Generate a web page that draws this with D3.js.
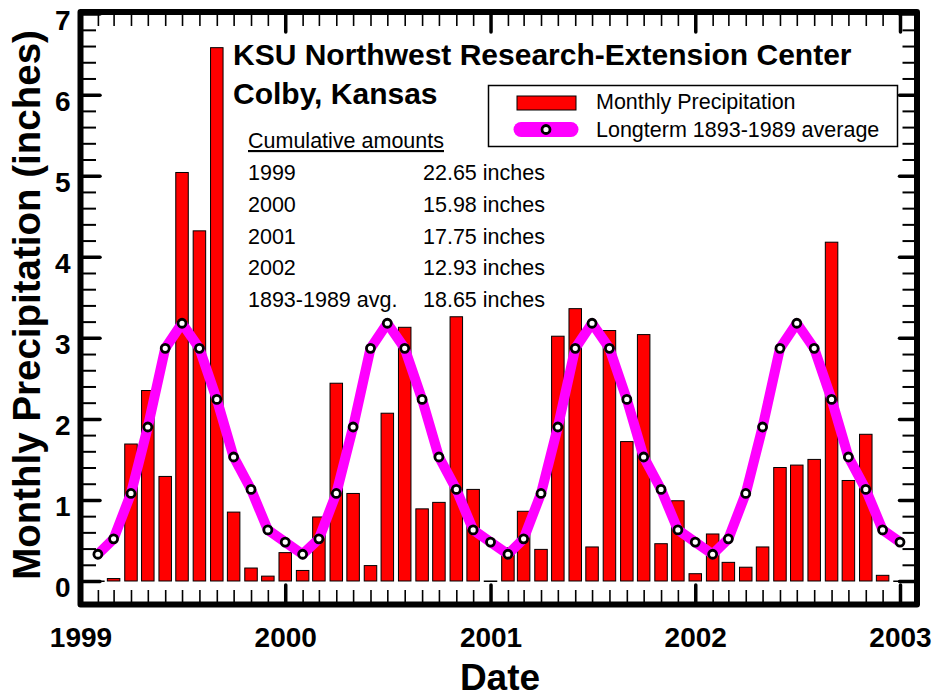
<!DOCTYPE html>
<html>
<head>
<meta charset="utf-8">
<script src="https://cdn.jsdelivr.net/npm/d3@7"></script>
<style>
  body { margin: 0; background: #fff; }
  svg { display: block; font-family: "Liberation Sans", Arial, sans-serif; }
  .tick text { font-family: "Liberation Sans", Arial, sans-serif; }
</style>
</head>
<body>
<div id="chart"></div>
<script>
// monthly precipitation (inches), Jan..Dec
const years = [1999, 2000, 2001, 2002];
const precip1999 = [0, 0.03, 1.69, 2.35, 1.29, 5.04, 4.32, 6.58, 0.85, 0.16, 0.06, 0.35];
const precip2000 = [0.13, 0.79, 2.44, 1.08, 0.19, 2.07, 3.13, 0.89, 0.97, 3.26, 1.13, 0];
const precip2001 = [0.41, 0.86, 0.39, 3.02, 3.36, 0.42, 3.09, 1.72, 3.04, 0.46, 0.99, 0.09];
const precip2002 = [0.58, 0.23, 0.17, 0.42, 1.40, 1.43, 1.50, 4.18, 1.24, 1.81, 0.07, 0];
// longterm 1893-1989 monthly average
const longtermAvg = [0.33, 0.52, 1.08, 1.90, 2.87, 3.18, 2.87, 2.24, 1.53, 1.13, 0.63, 0.48];

const yTicks = [0, 1, 2, 3, 4, 5, 6, 7];
const xTickYears = [1999, 2000, 2001, 2002, 2003];

const cumLabels = ['1999', '2000', '2001', '2002', '1893-1989 avg.'];
const cumValues = ['22.65 inches', '15.98 inches', '17.75 inches', '12.93 inches', '18.65 inches'];

const titleLines = ['KSU Northwest Research-Extension Center', 'Colby, Kansas'];
const legendLabels = ['Monthly Precipitation', 'Longterm 1893-1989 average'];

const width = 936;
const height = 698;
const frameLeft = 80.5;
const frameRight = 917;
const frameTop = 12;
const frameBottom = 604.5;

// build monthly rows, each point placed at end of its month
const allPrecip = [precip1999, precip2000, precip2001, precip2002];
const rows = [];
years.forEach((yr, i) => {
  allPrecip[i].forEach((v, m) => {
    rows.push({ date: new Date(yr, m + 1, 1), value: v, avg: longtermAvg[m] });
  });
});

const x = d3.scaleTime()
  .domain([new Date(1999, 0, 1), new Date(2003, 0, 1)])
  .range([frameLeft, 900]);

const y = d3.scaleLinear()
  .domain([-0.29, 7.02])
  .range([frameBottom, frameTop]);

const $svg = d3.select('#chart').append('svg')
  .attr('width', width)
  .attr('height', height);

// bars
const barW = 12.5;
$svg.append('g')
  .selectAll('rect')
  .data(rows)
  .join('rect')
  .attr('x', d => x(d.date) - barW / 2)
  .attr('y', d => y(d.value))
  .attr('width', barW)
  .attr('height', d => Math.max(0.5, y(0) - y(d.value)))
  .attr('fill', '#ff0000')
  .attr('stroke', '#000')
  .attr('stroke-width', 1);

// longterm average line
const line = d3.line()
  .x(d => x(d.date))
  .y(d => y(d.avg));

$svg.append('path')
  .datum(rows)
  .attr('d', line)
  .attr('fill', 'none')
  .attr('stroke', '#ff00ff')
  .attr('stroke-width', 10)
  .attr('stroke-linejoin', 'round')
  .attr('stroke-linecap', 'round');

$svg.append('g')
  .selectAll('circle')
  .data(rows)
  .join('circle')
  .attr('cx', d => x(d.date))
  .attr('cy', d => y(d.avg))
  .attr('r', 4)
  .attr('fill', '#fff')
  .attr('stroke', '#000')
  .attr('stroke-width', 2.8);

// axes: ticks point inward on all four sides
const minorY = d3.range(0, 7.01, 0.2).map(v => +v.toFixed(1)).filter(v => v % 1 !== 0);
const yearDates = xTickYears.map(yr => new Date(yr, 0, 1));
const monthDates = d3.timeMonth.range(new Date(1999, 0, 1), new Date(2003, 0, 1))
  .filter(d => d.getMonth() !== 0);

function styleTicks(g, w, cap) {
  g.select('.domain').remove();
  g.selectAll('.tick line')
    .attr('stroke', '#000')
    .attr('stroke-width', w)
    .attr('stroke-linecap', cap);
}

// left
$svg.append('g')
  .attr('transform', `translate(${frameLeft},0)`)
  .call(d3.axisLeft(y).tickValues(minorY).tickSize(-15.5).tickFormat(''))
  .call(g => styleTicks(g, 2, 'butt'));

$svg.append('g')
  .attr('transform', `translate(${frameLeft},0)`)
  .call(d3.axisLeft(y).tickValues(yTicks).tickSize(-19.5).tickPadding(10).tickFormat(d3.format('d')))
  .call(g => styleTicks(g, 3.5, 'round'))
  .call(g => g.selectAll('.tick text')
    .attr('dy', '0.57em')
    .attr('fill', '#000')
    .style('font-size', '28px')
    .style('font-weight', 'bold'));

// right
$svg.append('g')
  .attr('transform', `translate(${frameRight},0)`)
  .call(d3.axisRight(y).tickValues(minorY).tickSize(-14.5).tickFormat(''))
  .call(g => styleTicks(g, 2, 'butt'));

$svg.append('g')
  .attr('transform', `translate(${frameRight},0)`)
  .call(d3.axisRight(y).tickValues(yTicks).tickSize(-17.5).tickFormat(''))
  .call(g => styleTicks(g, 3.5, 'round'));

// bottom
$svg.append('g')
  .attr('transform', `translate(0,${frameBottom})`)
  .call(d3.axisBottom(x).tickValues(monthDates).tickSize(-14.5).tickFormat(''))
  .call(g => styleTicks(g, 1.6, 'butt'));

$svg.append('g')
  .attr('transform', `translate(0,${frameBottom})`)
  .call(d3.axisBottom(x).tickValues(yearDates).tickSize(-19.5).tickPadding(23).tickFormat(d3.timeFormat('%Y')))
  .call(g => styleTicks(g, 3.5, 'round'))
  .call(g => g.selectAll('.tick text')
    .attr('fill', '#000')
    .style('font-size', '28px')
    .style('font-weight', 'bold'));

// top
$svg.append('g')
  .attr('transform', `translate(0,${frameTop})`)
  .call(d3.axisTop(x).tickValues(monthDates).tickSize(-14).tickFormat(''))
  .call(g => styleTicks(g, 1.6, 'butt'));

$svg.append('g')
  .attr('transform', `translate(0,${frameTop})`)
  .call(d3.axisTop(x).tickValues(yearDates).tickSize(-20).tickFormat(''))
  .call(g => styleTicks(g, 3.5, 'round'));

// heavy frame
$svg.append('rect')
  .attr('x', frameLeft)
  .attr('y', frameTop)
  .attr('width', frameRight - frameLeft)
  .attr('height', frameBottom - frameTop)
  .attr('fill', 'none')
  .attr('stroke', '#000')
  .attr('stroke-width', 6)
  .attr('stroke-linejoin', 'round');

// axis titles
$svg.append('text')
  .attr('transform', `translate(40,305) rotate(-90)`)
  .attr('text-anchor', 'middle')
  .style('font-size', '38.5px')
  .style('font-weight', 'bold')
  .text('Monthly Precipitation (inches)');

$svg.append('text')
  .attr('x', 500)
  .attr('y', 690)
  .attr('text-anchor', 'middle')
  .style('font-size', '37px')
  .style('font-weight', 'bold')
  .text('Date');

// title block
$svg.selectAll('.title')
  .data(titleLines)
  .join('text')
  .attr('class', 'title')
  .attr('x', 233)
  .attr('y', (d, i) => 65 + i * 39)
  .style('font-size', '30px')
  .style('font-weight', 'bold')
  .text(d => d);

$svg.append('text')
  .attr('x', 248)
  .attr('y', 148)
  .style('font-size', '21.5px')
  .style('text-decoration', 'underline')
  .text('Cumulative amounts');

$svg.selectAll('.cum-label')
  .data(cumLabels)
  .join('text')
  .attr('class', 'cum-label')
  .attr('x', 248)
  .attr('y', (d, i) => 180 + i * 31.8)
  .style('font-size', '21.5px')
  .text(d => d);

$svg.selectAll('.cum-value')
  .data(cumValues)
  .join('text')
  .attr('class', 'cum-value')
  .attr('x', 423)
  .attr('y', (d, i) => 180 + i * 31.8)
  .style('font-size', '21.5px')
  .text(d => d);

// legend
const $legend = $svg.append('g');
$legend.append('rect')
  .attr('x', 488.5)
  .attr('y', 85.5)
  .attr('width', 409)
  .attr('height', 61)
  .attr('fill', '#fff')
  .attr('stroke', '#000')
  .attr('stroke-width', 1.5);

$legend.append('rect')
  .attr('x', 517)
  .attr('y', 96)
  .attr('width', 59)
  .attr('height', 14)
  .attr('fill', '#ff0000')
  .attr('stroke', '#000')
  .attr('stroke-width', 1);

$legend.append('line')
  .attr('x1', 521)
  .attr('x2', 571)
  .attr('y1', 129.5)
  .attr('y2', 129.5)
  .attr('stroke', '#ff00ff')
  .attr('stroke-width', 15)
  .attr('stroke-linecap', 'round');

$legend.append('circle')
  .attr('cx', 546)
  .attr('cy', 129.5)
  .attr('r', 4)
  .attr('fill', '#fff')
  .attr('stroke', '#000')
  .attr('stroke-width', 2.8);

$legend.selectAll('.legend-text')
  .data(legendLabels)
  .join('text')
  .attr('class', 'legend-text')
  .attr('x', 596)
  .attr('y', (d, i) => 109 + i * 28)
  .style('font-size', '21.5px')
  .text(d => d);
</script>
</body>
</html>
